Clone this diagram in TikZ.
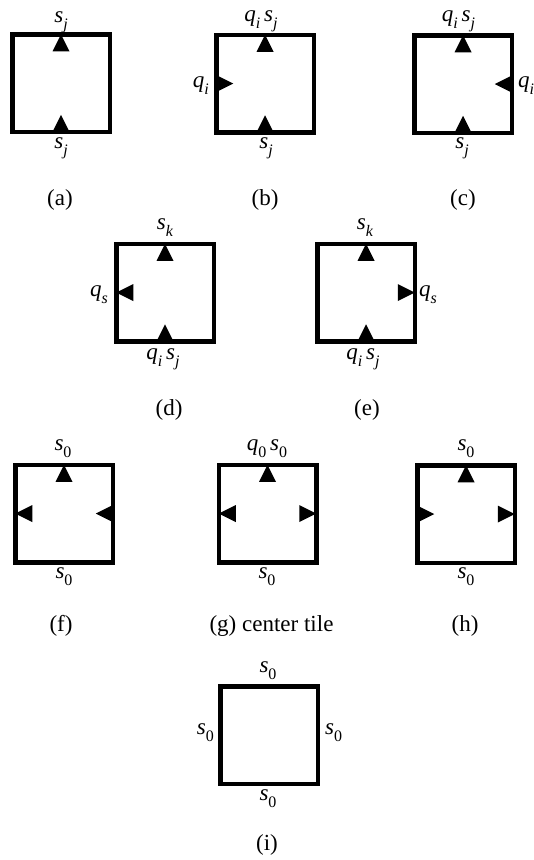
\documentclass[tikz,border=0pt]{standalone}
\usepackage{fontspec}
\setmainfont{Liberation Serif}
\newcommand\sv[2]{\textit{#1}\raisebox{-0.33em}{\fontsize{16}{16}\selectfont #2}}
\newcommand\TriTop[1]{\fill (#1.north) -- ++(8.5,17) -- ++(-17,0) -- cycle;}
\newcommand\TriBot[1]{\fill (#1.south) ++(-8.5,0) -- ++(17,0) -- ++(-8.5,-17) -- cycle;}
\newcommand\TriLR[1]{\fill (#1.west) ++(0,-8.5) -- ++(17,8.5) -- ++(-17,8.5) -- cycle;}
\newcommand\TriLL[1]{\fill (#1.west) -- ++(17,-8.5) -- ++(0,17) -- cycle;}
\newcommand\TriRL[1]{\fill (#1.east) ++(0,-8.5) -- ++(-17,8.5) -- ++(17,8.5) -- cycle;}
\newcommand\TriRR[1]{\fill (#1.east) -- ++(-17,-8.5) -- ++(0,17) -- cycle;}
\begin{document}
\begin{tikzpicture}[x=1pt,y=-1pt,
  tile/.style={draw, line width=4.5pt, minimum size=97.5pt, inner sep=0pt, outer sep=0pt},
  lab/.style={font=\fontsize{23}{25}\selectfont, inner sep=0pt},
  captext/.style={font=\fontsize{23}{25}\selectfont, inner sep=0pt, anchor=base}]
\useasboundingbox (0,0) rectangle (534,860);
% tiles
\node[tile] (ta) at (61,83) {};
\node[tile] (tb) at (265,83.5) {};
\node[tile] (tc) at (463,84) {};
\node[tile] (td) at (165,292.5) {};
\node[tile] (te) at (366,292.5) {};
\node[tile] (tf) at (64,513.5) {};
\node[tile] (tg) at (267.5,513.5) {};
\node[tile] (th) at (466,514) {};
\node[tile] (ti) at (269,735) {};
% triangles
\TriTop{ta} \TriBot{ta}
\TriTop{tb} \TriBot{tb} \TriLR{tb}
\TriTop{tc} \TriBot{tc} \TriRL{tc}
\TriTop{td} \TriBot{td} \TriLL{td}
\TriTop{te} \TriBot{te} \TriRR{te}
\TriTop{tf} \TriLL{tf} \TriRL{tf}
\TriTop{tg} \TriLL{tg} \TriRR{tg}
\TriTop{th} \TriLR{th} \TriRR{th}
% labels (a)
\node[lab, anchor=base] (la1) at (61,22) {\sv{s}{\textit{j}}};
\node[lab, anchor=base] (la2) at (61,148) {\sv{s}{\textit{j}}};
% (b)
\node[lab, anchor=base] (lb1) at (261,21) {\sv{q}{\textit{i}}\,\sv{s}{\textit{j}}};
\node[lab, anchor=base] (lb2) at (266,148) {\sv{s}{\textit{j}}};
\node[lab, anchor=base east] (lb3) at (209,87) {\sv{q}{\textit{i}}};
% (c)
\node[lab, anchor=base] (lc1) at (458.5,21) {\sv{q}{\textit{i}}\,\sv{s}{\textit{j}}};
\node[lab, anchor=base] (lc2) at (462,148) {\sv{s}{\textit{j}}};
\node[lab, anchor=base west] (lc3) at (518,87) {\sv{q}{\textit{i}}};
% (d)
\node[lab, anchor=base] (ld1) at (165,229) {\sv{s}{\textit{k}}};
\node[lab, anchor=base] (ld2) at (163,359) {\sv{q}{\textit{i}}\,\sv{s}{\textit{j}}};
\node[lab, anchor=base east] (ld3) at (108,296) {\sv{q}{\textit{s}}};
% (e)
\node[lab, anchor=base] (le1) at (365,229) {\sv{s}{\textit{k}}};
\node[lab, anchor=base] (le2) at (363,359) {\sv{q}{\textit{i}}\,\sv{s}{\textit{j}}};
\node[lab, anchor=base west] (le3) at (419,296) {\sv{q}{\textit{s}}};
% (f)
\node[lab, anchor=base] (lf1) at (63,450) {\sv{s}{0}};
\node[lab, anchor=base] (lf2) at (64,578) {\sv{s}{0}};
% (g)
\node[lab, anchor=base] (lg1) at (267,450) {\sv{q}{0}\,\sv{s}{0}};
\node[lab, anchor=base] (lg2) at (267,578) {\sv{s}{0}};
% (h)
\node[lab, anchor=base] (lh1) at (466,450) {\sv{s}{0}};
\node[lab, anchor=base] (lh2) at (466,578) {\sv{s}{0}};
% (i)
\node[lab, anchor=base] (li1) at (268,672) {\sv{s}{0}};
\node[lab, anchor=base] (li2) at (268,800) {\sv{s}{0}};
\node[lab, anchor=base east] (li3) at (214,734) {\sv{s}{0}};
\node[lab, anchor=base west] (li4) at (325,734) {\sv{s}{0}};
% captions
\node[captext] (ca) at (60,205) {(a)};
\node[captext] (cb) at (265,205) {(b)};
\node[captext] (cc) at (463,205) {(c)};
\node[captext] (cd) at (169,415) {(d)};
\node[captext] (ce) at (367,415) {(e)};
\node[captext] (cf) at (61,631) {(f)};
\node[captext] (cg) at (271.5,631) {(g) center tile};
\node[captext] (ch) at (465,631) {(h)};
\node[captext] (ci) at (267,850) {(i)};
\end{tikzpicture}
\end{document}
